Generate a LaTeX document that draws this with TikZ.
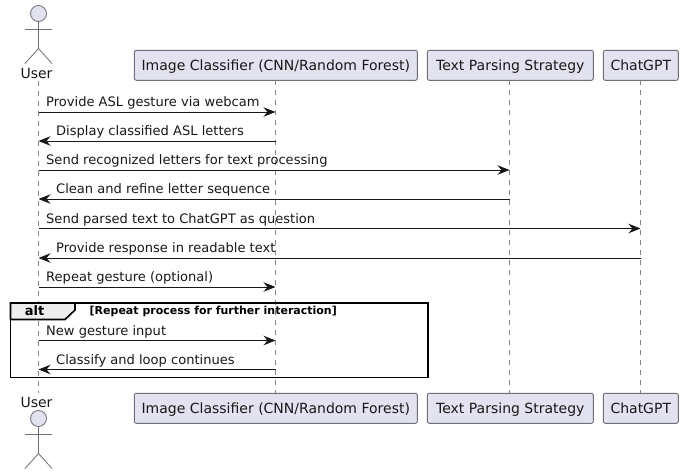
\documentclass[tikz,border=0pt]{standalone}
\usepackage{fontspec}
\setmainfont{DejaVu Sans}
\usetikzlibrary{arrows.meta}
\definecolor{pfill}{HTML}{E2E2F0}
\definecolor{pline}{HTML}{6E6E78}
\definecolor{ink}{HTML}{181818}
\tikzset{
 x=1pt,y=-1pt,
 part/.style={draw=pline,fill=pfill,rounded corners=2pt,line width=0.9pt,minimum height=30pt,inner sep=0pt,text=ink,text height=11pt,text depth=1.5pt,font=\fontsize{14}{16}\selectfont},
 life/.style={draw=pline!85,line width=0.6pt,dash pattern=on 5pt off 5pt},
 msg/.style={draw=ink,line width=0.9pt,-{Stealth[length=12pt,width=9.5pt,inset=4pt]}},
 lab/.style={anchor=base west,inner sep=0pt,text=ink,font=\fontsize{13.05}{15}\selectfont},
 actname/.style={anchor=base,inner sep=0pt,text=ink,font=\fontsize{14}{16}\selectfont},
 actorline/.style={draw=pline,line width=0.8pt},
 frm/.style={draw=black,line width=1.6pt},
}
\newcommand{\stick}[2]{%
 \draw[actorline,fill=pfill] (#1,#2) circle[radius=8];
 \draw[actorline] (#1,#2+8) -- (#1,#2+35) (#1-13.5,#2+16) -- (#1+13.5,#2+16) (#1-13.5,#2+50) -- (#1,#2+35) -- (#1+13.5,#2+50);}
\begin{document}
\begin{tikzpicture}
\useasboundingbox (0,0) rectangle (683,474);
% participants
\node[part,minimum width=283pt] (it) at (275.8,65.3) {Image Classifier (CNN/Random Forest)};
\node[part,minimum width=166pt] (tt) at (510.3,65.3) {Text Parsing Strategy};
\node[part,minimum width=75pt] (ct) at (640.8,65.3) {ChatGPT};
\node[part,minimum width=283pt] (ib) at (275.8,408.3) {Image Classifier (CNN/Random Forest)};
\node[part,minimum width=166pt] (tb) at (510.3,408.3) {Text Parsing Strategy};
\node[part,minimum width=75pt] (cb) at (640.8,408.3) {ChatGPT};
\node[actname] (ut) at (36.5,78) {User};
\node[actname] (ub) at (36.5,407) {User};
\stick{38.5}{13.5}
\stick{38.5}{418.5}
% lifelines
\coordinate (us) at (38.5,81);
\coordinate (ue) at (38.5,393);
\coordinate (is) at (275.5,80.3);
\coordinate (ie) at (275.5,393.3);
\coordinate (ts) at (509.5,80.3);
\coordinate (te) at (509.5,393.3);
\coordinate (cs) at (640.5,80.3);
\coordinate (ce) at (640.5,393.3);
\draw[life] (us) -- (ue);
\draw[life] (is) -- (ie);
\draw[life] (ts) -- (te);
\draw[life] (cs) -- (ce);
% message endpoints
\foreach \n/\y in {1/112,2/141,3/170,4/199,5/228.5,6/258,7/287,8/340.5,9/369.5}{
 \coordinate (u\n) at (38.5,\y);
 \coordinate (i\n) at (275.5,\y);
 \coordinate (t\n) at (509.5,\y);
 \coordinate (c\n) at (640.5,\y);
}
\draw[msg] (u1) -- (i1);
\draw[msg] (i2) -- (u2);
\draw[msg] (u3) -- (t3);
\draw[msg] (t4) -- (u4);
\draw[msg] (u5) -- (c5);
\draw[msg] (c6) -- (u6);
\draw[msg] (u7) -- (i7);
\draw[msg] (u8) -- (i8);
\draw[msg] (i9) -- (u9);
\node[lab] (l1) at (46,106.5) {Provide ASL gesture via webcam};
\node[lab] (l2) at (56,135.5) {Display classified ASL letters};
\node[lab] (l3) at (46,164.5) {Send recognized letters for text processing};
\node[lab] (l4) at (56,193.5) {Clean and refine letter sequence};
\node[lab] (l5) at (46,223) {Send parsed text to ChatGPT as question};
\node[lab] (l6) at (56,252.5) {Provide response in readable text};
\node[lab] (l7) at (46,281.5) {Repeat gesture (optional)};
\node[lab] (l8) at (46,335) {New gesture input};
\node[lab] (l9) at (56,364.5) {Classify and loop continues};
% alt frame
\draw[frm,fill=black!7,line join=miter] (10.5,303) -- (75,303) -- (75,310) -- (65,319.5) -- (10.5,319.5) -- cycle;
\draw[frm] (10.5,303) rectangle (428,377.5);
\node[anchor=base,inner sep=0pt,font=\bfseries\fontsize{13}{15}\selectfont] (alt) at (34.5,315) {alt};
\node[anchor=base west,inner sep=0pt,font=\bfseries\fontsize{11}{13}\selectfont] (cond) at (89.5,314) {[Repeat process for further interaction]};
\end{tikzpicture}
\end{document}
